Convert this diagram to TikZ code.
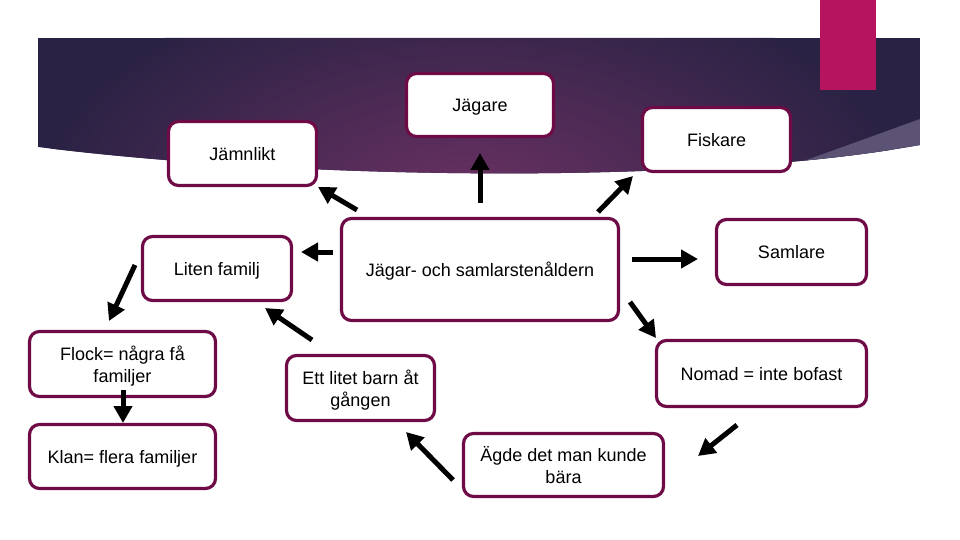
\documentclass[tikz,border=0pt]{standalone}
\usepackage{fontspec}
\setmainfont{Liberation Sans}
\usetikzlibrary{arrows.meta}

\definecolor{boxline}{HTML}{6E0B46}
\definecolor{banddark}{HTML}{2A2244}
\definecolor{bandmid}{HTML}{6A3163}
\definecolor{bandwedge}{HTML}{5B5274}
\definecolor{accent}{HTML}{B7145F}

\begin{document}
\begin{tikzpicture}[x=1pt, y=-1pt, font=\fontsize{18}{22}\selectfont]

    % Styles for the boxes and the thick arrows
    \tikzset{box/.style={draw=boxline, line width=3.2pt, rounded corners=10pt,
                         fill=white, align=center, inner sep=0pt, text depth=0pt},
             pil/.style={line width=5pt, -{Triangle[length=17pt,width=18pt]}}}

    \useasboundingbox (0,0) rectangle (960,540);

    % --- Background banner ---
    \begin{scope}
      \clip (38,38) -- (920,38) -- (920,145) .. controls (700,185) and (300,180) .. (38,147) -- cycle;
      \fill[banddark] (38,38) rectangle (920,190);
      \shade[inner color=bandmid, outer color=banddark] (470,200) ellipse (430 and 230);
      \fill[bandwedge] (790,166) -- (920,119) -- (920,145) -- cycle;
    \end{scope}
    \fill[accent] (820,0) rectangle (876,90);

    % --- Boxes ---
    \node[box, minimum width=277pt, minimum height=102pt] (sten) at (480,269.5) {Jägar- och samlarstenåldern};
    \node[box, minimum width=147pt, minimum height=63pt] (jagare) at (480,105) {Jägare};
    \node[box, minimum width=148pt, minimum height=64pt] (fiskare) at (716.5,139.5) {Fiskare};
    \node[box, minimum width=148pt, minimum height=64pt] (jamnlikt) at (242.5,153.5) {Jämnlikt};
    \node[box, minimum width=149pt, minimum height=64pt] (liten) at (217,268.5) {Liten familj};
    \node[box, minimum width=150pt, minimum height=65pt] (samlare) at (791.5,252) {Samlare};
    \node[box, minimum width=186pt, minimum height=65pt] (flock) at (122.5,364) {Flock= några få\\familjer};
    \node[box, minimum width=186pt, minimum height=64pt] (klan) at (122.5,456.5) {Klan= flera familjer};
    \node[box, minimum width=148pt, minimum height=65pt] (barn) at (360.5,388) {Ett litet barn åt\\gången};
    \node[box, minimum width=210pt, minimum height=66pt] (nomad) at (761.5,373.5) {Nomad = inte bofast};
    \node[box, minimum width=200pt, minimum height=63pt] (agde) at (563.5,465) {Ägde det man kunde\\bära};

    % --- Arrow ends (the arrows float between the boxes) ---
    \coordinate (jagareS) at (480,203);   \coordinate (jagareE) at (480,153);
    \coordinate (jamnS)   at (357,210);   \coordinate (jamnE)   at (318,187);
    \coordinate (fiskS)   at (598,212);   \coordinate (fiskE)   at (633,176);
    \coordinate (litenS)  at (333,252);   \coordinate (litenE)  at (301,252);
    \coordinate (samlS)   at (632,259);   \coordinate (samlE)   at (698,259);
    \coordinate (flockS)  at (135,265);   \coordinate (flockE)  at (109,321);
    \coordinate (klanS)   at (123,390);   \coordinate (klanE)   at (123,423);
    \coordinate (barnS)   at (312,340);   \coordinate (barnE)   at (265,308);
    \coordinate (nomadS)  at (630,302);   \coordinate (nomadE)  at (656,338);
    \coordinate (agdeS)   at (737,425);   \coordinate (agdeE)   at (698,456);
    \coordinate (backS)   at (453,480);   \coordinate (backE)   at (406,432);

    % --- Arrows ---
    \draw[pil] (jagareS) -- (jagareE);
    \draw[pil] (jamnS) -- (jamnE);
    \draw[pil] (fiskS) -- (fiskE);
    \draw[pil] (litenS) -- (litenE);
    \draw[pil] (samlS) -- (samlE);
    \draw[pil] (flockS) -- (flockE);
    \draw[pil] (klanS) -- (klanE);
    \draw[pil] (barnS) -- (barnE);
    \draw[pil] (nomadS) -- (nomadE);
    \draw[pil] (agdeS) -- (agdeE);
    \draw[pil] (backS) -- (backE);
\end{tikzpicture}
\end{document}
